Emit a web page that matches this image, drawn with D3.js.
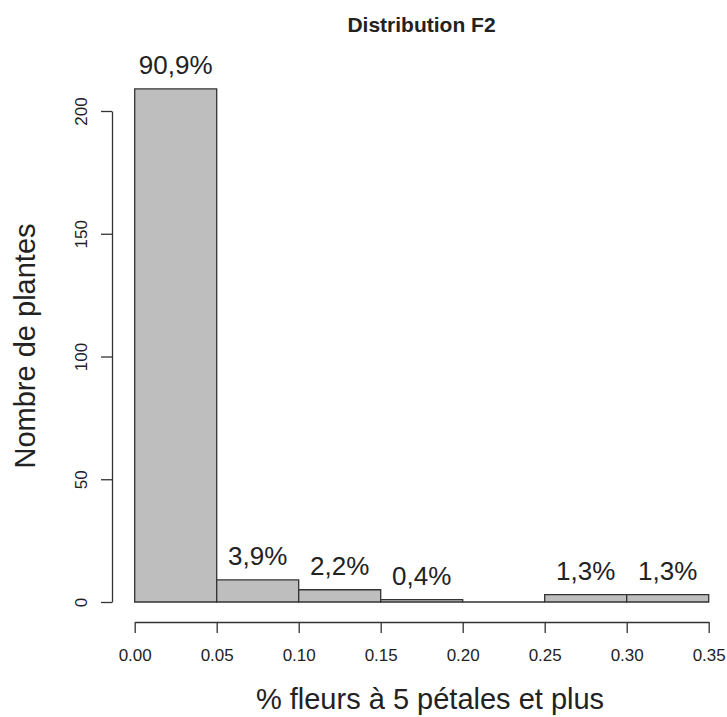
<!DOCTYPE html>
<html>
<head>
<meta charset="utf-8">
<script src="https://cdn.jsdelivr.net/npm/d3@7"></script>
<style>
  html, body { margin: 0; padding: 0; background: #fff; }
  svg { display: block; }
  text { font-family: "Liberation Sans", Arial, Helvetica, sans-serif; fill: #222; }
</style>
</head>
<body>
<script>
// ---- data ----
const binEdges = [0, 0.05, 0.10, 0.15, 0.20, 0.25, 0.30, 0.35];
const counts = [209, 9, 5, 1, 0, 3, 3];
const pctLabels = ["90,9%", "3,9%", "2,2%", "0,4%", "", "1,3%", "1,3%"];
const xTicks = [0, 0.05, 0.10, 0.15, 0.20, 0.25, 0.30, 0.35];
const yTicks = [0, 50, 100, 150, 200];
const title = "Distribution F2";
const xTitle = "% fleurs à 5 pétales et plus";
const yTitle = "Nombre de plantes";

// ---- layout ----
const W = 727, H = 717;
const svg = d3.select("body").append("svg").attr("width", W).attr("height", H);

const x = d3.scaleLinear().domain([0, 0.35]).range([134.7, 708.7]);
const y = d3.scaleLinear().domain([0, 200]).range([602, 111]);
const stroke = "#333";

// bars (drawn as closed paths so that empty bins still show their base line)
const bars = binEdges.slice(0, -1).map((b, i) => ({ x0: b, x1: binEdges[i + 1], n: counts[i], lab: pctLabels[i] }));
svg.append("g").selectAll("path").data(bars).join("path")
  .attr("d", d => {
    const p = d3.path();
    p.rect(x(d.x0), y(d.n), x(d.x1) - x(d.x0), y(0) - y(d.n));
    return p.toString();
  })
  .attr("fill", "#bebebe")
  .attr("stroke", stroke)
  .attr("stroke-width", 1.3)
  .attr("stroke-linejoin", "miter");

// percent labels
svg.append("g").selectAll("text").data(bars.filter(d => d.lab)).join("text")
  .attr("x", d => (x(d.x0) + x(d.x1)) / 2)
  .attr("y", d => y(d.n) - 15)
  .attr("text-anchor", "middle")
  .attr("font-size", 26)
  .text(d => d.lab);

// x axis
const gx = svg.append("g").attr("transform", "translate(0,622)")
  .call(d3.axisBottom(x).tickValues(xTicks).tickFormat(d3.format(".2f")).tickSize(11).tickSizeOuter(0).tickPadding(0));
gx.select(".domain").attr("stroke", stroke).attr("stroke-width", 1.3);
gx.selectAll(".tick line").attr("stroke", stroke).attr("stroke-width", 1.3);
gx.selectAll(".tick text").attr("font-size", 17).attr("y", 39).attr("dy", 0).attr("fill", "#222")
  .style("font-family", '"Liberation Sans", Arial, sans-serif');

// y axis
const gy = svg.append("g").attr("transform", "translate(112,0)")
  .call(d3.axisLeft(y).tickValues(yTicks).tickSize(11).tickSizeOuter(0));
gy.select(".domain").attr("stroke", stroke).attr("stroke-width", 1.3);
gy.selectAll(".tick line").attr("stroke", stroke).attr("stroke-width", 1.3);
gy.selectAll(".tick text").attr("font-size", 17).attr("x", 0).attr("y", 0).attr("dy", 0)
  .attr("text-anchor", "middle").attr("transform", "translate(-25.3,0) rotate(-90)").attr("fill", "#222")
  .style("font-family", '"Liberation Sans", Arial, sans-serif');

// titles
svg.append("text").attr("x", 421.5).attr("y", 32.3).attr("text-anchor", "middle")
  .attr("font-size", 21).attr("font-weight", "bold").text(title);
svg.append("text").attr("x", 430).attr("y", 709).attr("text-anchor", "middle")
  .attr("font-size", 29).text(xTitle);
svg.append("text").attr("transform", "translate(35,346) rotate(-90)").attr("text-anchor", "middle")
  .attr("font-size", 29).text(yTitle);
</script>
</body>
</html>
